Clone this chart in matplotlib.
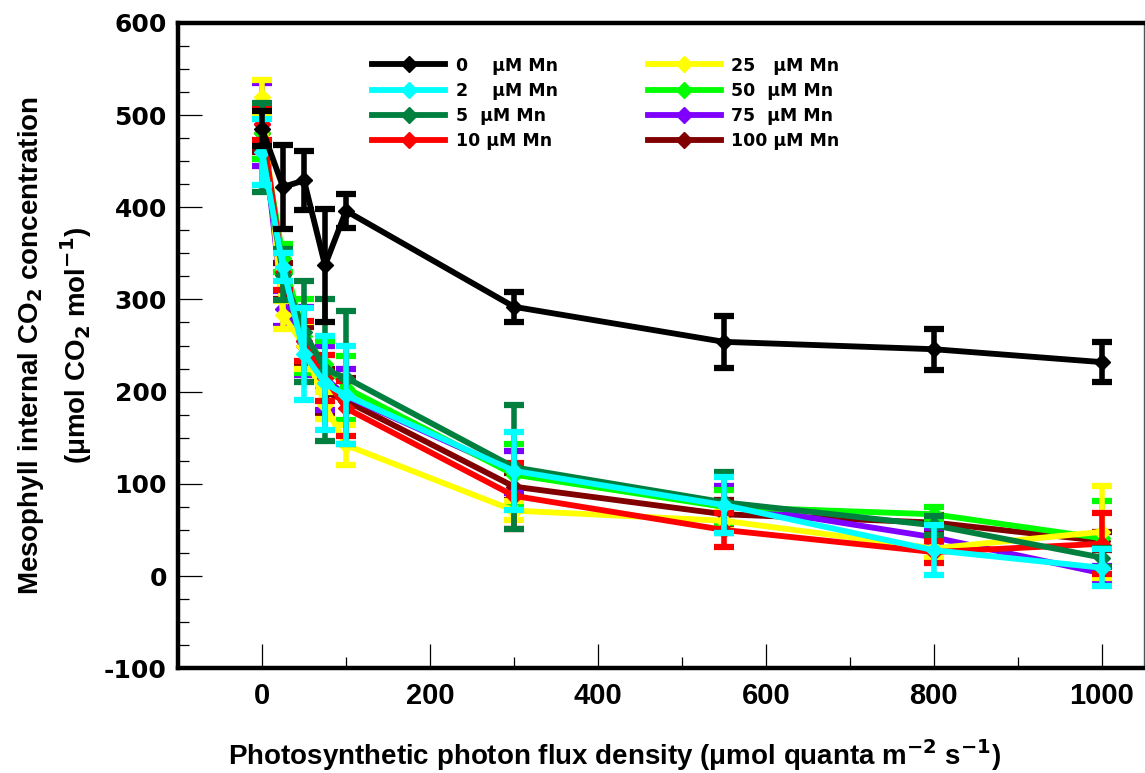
import matplotlib
matplotlib.use('Agg')
import matplotlib.pyplot as plt
from matplotlib.ticker import MultipleLocator

plt.rcParams['axes.unicode_minus'] = False

# light level (PPFD) at which each reading was taken
ppfd = [0, 25, 50, 75, 100, 300, 550, 800, 1000]

# Ci per Mn treatment, mean and error
ci_0 = [485, 422, 429, 337, 396, 292, 254, 246, 232]
err_0 = [19, 46, 32, 61, 18, 16, 28, 22, 22]
ci_2 = [460, 335, 241, 209, 196, 114, 77, 28, 9]
err_2 = [36, 15, 50, 51, 53, 42, 30, 27, 20]
ci_5 = [465, 327, 265, 224, 215, 118, 80, 55, 20]
err_5 = [48, 28, 55, 77, 72, 67, 33, 10, 10]
ci_10 = [490, 330, 255, 215, 182, 87, 50, 26, 35]
err_10 = [17, 20, 22, 25, 30, 36, 18, 12, 33]
ci_25 = [520, 283, 250, 185, 142, 71, 60, 30, 48]
err_25 = [18, 15, 25, 15, 22, 10, 10, 10, 50]
ci_50 = [480, 345, 260, 230, 204, 110, 75, 67, 41]
err_50 = [28, 15, 40, 25, 35, 33, 18, 8, 40]
ci_75 = [490, 290, 255, 215, 195, 113, 78, 42, 3]
err_75 = [45, 19, 37, 35, 30, 23, 20, 10, 8]
ci_100 = [480, 320, 250, 200, 190, 97, 67, 58, 38]
err_100 = [20, 20, 20, 25, 25, 15, 15, 8, 10]

labels = ['0    \u03bcM Mn', '2    \u03bcM Mn', '5  \u03bcM Mn', '10 \u03bcM Mn',
          '25   \u03bcM Mn', '50  \u03bcM Mn', '75  \u03bcM Mn', '100 \u03bcM Mn']
colors = ['black', '#00ffff', '#007f3f', '#ff0000',
          '#ffff00', '#00ff00', '#7f00ff', '#800000']
means = [ci_0, ci_2, ci_5, ci_10, ci_25, ci_50, ci_75, ci_100]
errs = [err_0, err_2, err_5, err_10, err_25, err_50, err_75, err_100]

fig = plt.figure(figsize=(11.45, 7.73), dpi=100)
ax = fig.add_axes([0.1555, 0.1355, 0.8435, 0.835])

# drawing order: other treatments first, then 2 uM and 0 uM on top
order = [7, 6, 5, 4, 3, 2, 1, 0]
handles = {}
for i in order:
    h = ax.errorbar(ppfd, means[i], yerr=errs[i], color=colors[i],
                    lw=4.2, marker='D', ms=8, elinewidth=4, capsize=7,
                    capthick=4.5, label=labels[i], zorder=3 + order.index(i))
    handles[i] = h[0]

leg = ax.legend([handles[i] for i in range(8)], labels,
                ncol=2, frameon=False, loc='upper left',
                bbox_to_anchor=(0.185, 0.972), handlelength=4.2,
                handletextpad=0.6, labelspacing=0.42, columnspacing=5.2,
                numpoints=1, prop={'family': 'DejaVu Sans', 'weight': 'bold', 'size': 12.5})

ax.set_xlim(-100, 1050)
ax.set_ylim(-100, 600)
ax.xaxis.set_major_locator(MultipleLocator(200))
ax.xaxis.set_minor_locator(MultipleLocator(100))
ax.yaxis.set_major_locator(MultipleLocator(100))
ax.yaxis.set_minor_locator(MultipleLocator(25))
ax.tick_params(which='major', direction='in', length=17, width=0.9, top=False, right=False)
ax.tick_params(which='minor', direction='in', length=8, width=0.9, top=False, right=False)
ax.tick_params(axis='y', pad=8)
ax.tick_params(axis='x', pad=10)

for side in ['left', 'top', 'bottom']:
    ax.spines[side].set_linewidth(3.2)
ax.spines['right'].set_linewidth(1.0)
ax.spines['right'].set_color('#555555')

for t in ax.get_yticklabels():
    t.set_family('DejaVu Sans')
    t.set_fontweight('bold')
    t.set_fontsize(18)
for t in ax.get_xticklabels():
    t.set_family('Liberation Sans')
    t.set_fontweight('bold')
    t.set_fontsize(21)

fig.text(0.537, 0.023, 'Photosynthetic photon flux density (\u03bcmol quanta m$^{\\mathbf{-2}}$ s$^{\\mathbf{-1}}$)',
         ha='center', va='center', family='Liberation Sans', fontweight='bold', fontsize=20)
fig.text(0.027, 0.553, 'Mesophyll internal CO$_\\mathbf{2}$ concentration',
         ha='center', va='center', rotation=90, family='Liberation Sans', fontweight='bold', fontsize=20)
fig.text(0.066, 0.553, '(\u03bcmol CO$_\\mathbf{2}$ mol$^{\\mathbf{-1}}$)',
         ha='center', va='center', rotation=90, family='Liberation Sans', fontweight='bold', fontsize=20)

fig.savefig('out.png', dpi=100)
